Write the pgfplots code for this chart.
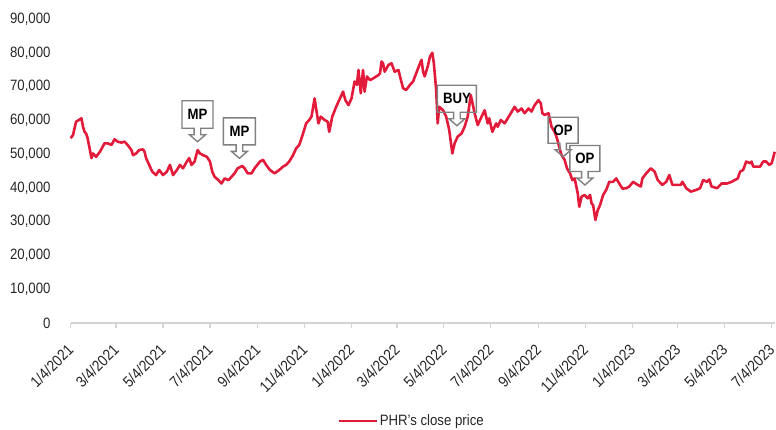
\documentclass[border=0pt]{standalone}
\usepackage{fontspec}
\setmainfont{Liberation Sans}[FakeStretch=0.88]
\usepackage{pgfplots}
\pgfplotsset{compat=1.18}
\definecolor{phrred}{HTML}{E31B3B}
\definecolor{callgray}{HTML}{808080}
\definecolor{axgray}{HTML}{D4D4D4}
\definecolor{txt}{HTML}{262626}
\newcommand{\lbl}{\fontsize{15bp}{18bp}\selectfont}
\newcommand{\xlbl}{\fontsize{15.5bp}{18bp}\selectfont}
% tip x, tip y, half box width, box top, box middle, text
\newcommand{\callout}[6]{%
  \coordinate (t) at (axis cs:#1,#2);
  \draw[callgray, line width=1.4bp, line join=miter]
    (t) -- ([shift={(-8bp,7bp)}]t) -- ([shift={(-3.3bp,7bp)}]t) -- ([shift={(-3.3bp,13.5bp)}]t) -- ([shift={(-#3bp,13.5bp)}]t)
    -- ([shift={(-#3bp,#4bp)}]t) -- ([shift={(#3bp,#4bp)}]t) -- ([shift={(#3bp,13.5bp)}]t)
    -- ([shift={(3.3bp,13.5bp)}]t) -- ([shift={(3.3bp,7bp)}]t) -- ([shift={(8bp,7bp)}]t) -- cycle;
  \node[inner sep=0pt, text=black, font=\lbl\bfseries] at ([yshift=#5bp]t) {#6};
}
\begin{document}
\begin{tikzpicture}
\begin{axis}[
  at={(0,0)}, anchor=south west,
  scale only axis, width=704bp, height=304bp,
  xmin=0, xmax=915, ymin=0, ymax=90000,
  clip=false,
  axis x line*=bottom, axis y line*=left,
  y axis line style={draw=none},
  x axis line style={draw=axgray, line width=1.5bp},
  ytick={0,10000,...,90000},
  ytick style={draw=none},
  xtick={0,59,120,181,243,304,365,424,485,546,608,669,730,789,850,911},
  xticklabels={1/4/2021,3/4/2021,5/4/2021,7/4/2021,9/4/2021,11/4/2021,1/4/2022,3/4/2022,5/4/2022,7/4/2022,9/4/2022,11/4/2022,1/4/2023,3/4/2023,5/4/2023,7/4/2023},
  tick align=outside,
  major tick length=5bp,
  xtick style={draw=axgray, line width=1.2bp},
  /pgf/number format/assume math mode=true,
  /pgf/number format/1000 sep={,},
  scaled y ticks=false,
  yticklabel style={font=\lbl, text=txt, inner sep=0pt, xshift=-15bp},
  xticklabel style={font=\xlbl, text=txt, inner sep=0pt, xshift=0bp, yshift=-19bp, rotate=45, anchor=east},
  legend style={draw=none, fill=none, at={(0.379,-0.322)}, anchor=west, font=\lbl, text=txt, inner sep=0pt, nodes={inner sep=1.5bp}},
  legend image code/.code={\draw[#1] (0bp,0bp) -- (38bp,0bp);},
]
\addplot[phrred, line width=2.6bp, line join=round] coordinates {
(0,54700) (3,55650) (7,59600) (12,60300) (14,60600) (16,58100) (18,56600) (20,56100) (22,54700) (25,51200) (27,48800) (29,50200) (33,49200) (38,50700) (44,53200) (48,53200) (53,52700) (57,54400) (61,53700) (66,53400) (70,53700) (74,52700) (79,51200) (81,49700) (85,50200) (89,51200) (94,51400) (96,50700) (98,48800) (102,46800) (106,44800) (111,43800) (115,45300) (120,43800) (125,44800) (129,46800) (133,43800) (138,45300) (142,46800) (146,45800) (151,47800) (154,48800) (157,46800) (161,47800) (165,51200) (168,50200) (172,49700) (177,49200) (181,47800) (184,44800) (187,43300) (192,42300) (196,41300) (200,42800) (205,42300) (209,43300) (213,44300) (217,45800) (223,46500) (226,45800) (230,44300) (235,44300) (239,45800) (246,47800) (250,48300) (254,46800) (259,45300) (265,44300) (271,45300) (276,46300) (280,46800) (284,47800) (289,49700) (293,51700) (297,52700) (302,56100) (306,59100) (310,60100) (313,61100) (317,66500) (319,63500) (322,59100) (325,61100) (330,60100) (334,59600) (336,56600) (340,61100) (345,64000) (349,66000) (354,68500) (357,66000) (361,64500) (365,66500) (369,71500) (372,70500) (374,74900) (377,68000) (380,74900) (382,68500) (385,73000) (389,71900) (393,72400) (400,73400) (402,73900) (404,77400) (406,76900) (408,74400) (413,76400) (417,76900) (421,74400) (426,74900) (428,73000) (432,69500) (436,69000) (441,70500) (445,71500) (449,73900) (454,76900) (456,77900) (458,74400) (460,73000) (464,75900) (467,78900) (470,80000) (472,76900) (475,69000) (477,59100) (479,64000) (484,63000) (488,61100) (492,57100) (496,50200) (499,53200) (503,55200) (508,56100) (512,58100) (516,61100) (520,67500) (525,62100) (529,58600) (533,60600) (538,63000) (542,59100) (544,60600) (548,56600) (553,59100) (555,58100) (559,60100) (564,59100) (568,60600) (572,62100) (577,64000) (581,62600) (586,63500) (590,62100) (595,63500) (599,62600) (603,64500) (608,66000) (611,65000) (613,62100) (616,61600) (621,62100) (625,58100) (629,56600) (632,54700) (636,51200) (638,49700) (642,48300) (645,45800) (649,44300) (652,42300) (655,42800) (659,38400) (661,34400) (664,37400) (668,37900) (672,36900) (675,37900) (677,35400) (679,34900) (682,30500) (685,33400) (688,34900) (692,37900) (696,39400) (700,41800) (705,41800) (709,42800) (713,41300) (717,39800) (722,39900) (726,40400) (731,41800) (737,40900) (741,40400) (743,42800) (748,44300) (754,45800) (759,44800) (763,42300) (769,40900) (774,41800) (778,43800) (782,40900) (789,40900) (793,40900) (795,41800) (800,39900) (806,38900) (813,39400) (818,39900) (822,42300) (827,41800) (830,42500) (833,40400) (840,39900) (846,41300) (853,41300) (859,41800) (863,42300) (867,42800) (870,44800) (874,45300) (878,47800) (883,47300) (885,47800) (887,46300) (891,46300) (896,46300) (900,47800) (904,47800) (908,46800) (911,47300) (913,48800) (915,50700)
};
\addlegendentry{PHR's close price}
\callout{164.8}{53670}{15.5}{41}{27.25}{MP}
\callout{219.3}{48760}{16}{40.5}{27}{MP}
\callout{502}{58410}{19.5}{40.5}{27}{BUY}
\callout{640}{49230}{15}{39.5}{26.5}{OP}
\callout{668.3}{40855}{15}{39.5}{26.5}{OP}
\end{axis}
\pgfresetboundingbox
\useasboundingbox (-70.7bp,-107bp) rectangle (705.3bp,323bp);
\end{tikzpicture}
\end{document}
